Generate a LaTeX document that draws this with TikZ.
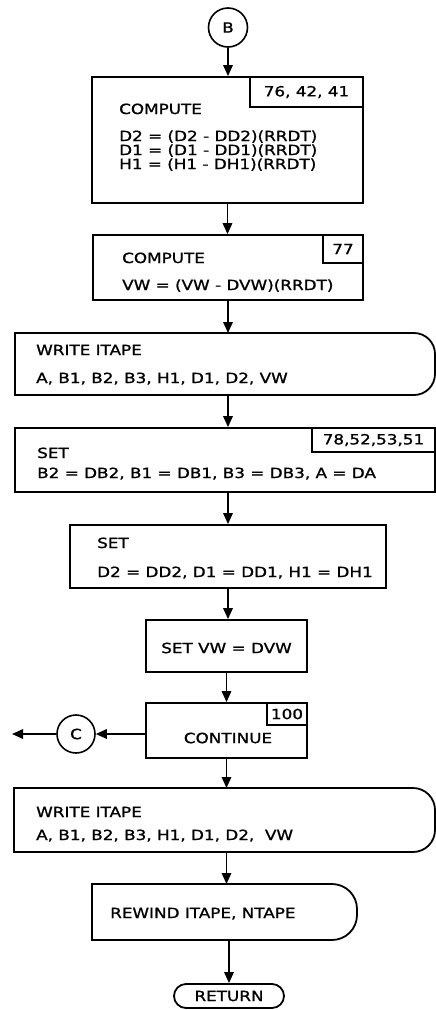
\documentclass[tikz,border=0pt]{standalone}
\usepackage{fontspec}
\newfontfamily\fcfont{DejaVu Sans}[FakeStretch=1.2, FakeBold=1.2]
\newcommand\fctxtfont{\fcfont\fontsize{14}{14}\selectfont}
\usetikzlibrary{arrows.meta}
\begin{document}
\begin{tikzpicture}[x=1pt,y=-1pt,
  fcbox/.style={draw, line width=1.8pt, inner sep=0pt},
  fctag/.style={draw, line width=1.2pt, inner sep=0pt, font=\fctxtfont},
  fctext/.style={inner sep=0pt, anchor=base west, font=\fctxtfont},
  fcctext/.style={inner sep=0pt, font=\fctxtfont},
  fcghost/.style={inner sep=0pt, outer sep=0pt},
  fcline/.style={line width=1.8pt},
  fcarrow/.style={line width=1.7pt, -{Triangle[length=11pt,width=9.5pt]}},
  fcconn/.style={circle, draw, line width=1.6pt, inner sep=0pt, font=\fctxtfont},
  fcterm/.style={draw, line width=1.8pt, inner sep=0pt, rounded corners=12pt, font=\fctxtfont}
]
\useasboundingbox (0,0) rectangle (436,1010);

% connector B
\node[fcconn, minimum size=39pt] (B) at (228,27.5) {B};

% compute 1
\node[fcbox, minimum width=271pt, minimum height=126pt] (c1) at (227.5,140) {};
\node[fctag, minimum width=113pt, minimum height=30pt] (c1n) at (306.5,92) {76, 42, 41};
\node[fctext] (c1a) at (119,114) {COMPUTE};
\node[fctext] (c1b) at (119,141) {D2 = (D2 - DD2)(RRDT)};
\node[fctext] (c1c) at (119,155) {D1 = (D1 - DD1)(RRDT)};
\node[fctext] (c1d) at (119,169) {H1 = (H1 - DH1)(RRDT)};

% compute 2
\node[fcbox, minimum width=270pt, minimum height=65pt] (c2) at (228,267.5) {};
\node[fctag, minimum width=40pt, minimum height=28pt] (c2n) at (343,249) {77};
\node[fctext] (c2a) at (122,263) {COMPUTE};
\node[fctext] (c2b) at (122,290) {VW = (VW - DVW)(RRDT)};

% write itape 1
\node[fcghost, minimum width=420pt, minimum height=62pt] (w1) at (225,364) {};
\draw[fcline, rounded corners=21pt] (w1.south west) -- (w1.south east) -- (w1.north east) -- (w1.north west);
\draw[fcline, line cap=rect] (w1.north west) -- (w1.south west);
\node[fctext] (w1a) at (36,355) {WRITE ITAPE};
\node[fctext] (w1b) at (36,383) {A, B1, B2, B3, H1, D1, D2, VW};

% set 1
\node[fcbox, minimum width=420pt, minimum height=64pt] (c3) at (225,460) {};
\node[fctag, minimum width=123pt, minimum height=24pt] (c3n) at (373.5,440) {78,52,53,51};
\node[fctext] (c3a) at (37,458) {SET};
\node[fctext] (c3b) at (37,478) {B2 = DB2, B1 = DB1, B3 = DB3, A = DA};

% set 2
\node[fcbox, minimum width=316pt, minimum height=63pt] (c4) at (228,556.5) {};
\node[fctext] (c4a) at (97,548) {SET};
\node[fctext] (c4b) at (97,577) {D2 = DD2, D1 = DD1, H1 = DH1};

% set vw
\node[fcbox, minimum width=161pt, minimum height=52pt] (c5) at (226.5,646) {};
\node[fcctext] (c5a) at (226.5,648) {SET VW = DVW};

% continue
\node[fcbox, minimum width=161pt, minimum height=55pt] (c6) at (226.5,730.5) {};
\node[fctag, minimum width=40pt, minimum height=22pt] (c6n) at (287,714) {100};
\node[fcctext] (c6a) at (228,738) {CONTINUE};

% connector C
\node[fcconn, minimum size=38pt] (C) at (76,734) {C};
\coordinate (out) at (12,734);

% write itape 2
\node[fcghost, minimum width=421pt, minimum height=64pt] (w2) at (224.5,820) {};
\draw[fcline, rounded corners=22pt] (w2.south west) -- (w2.south east) -- (w2.north east) -- (w2.north west);
\draw[fcline, line cap=rect] (w2.north west) -- (w2.south west);
\node[fctext] (w2a) at (36,817) {WRITE ITAPE};
\node[fctext] (w2b) at (36,840) {A, B1, B2, B3, H1, D1, D2,\ \ VW};

% rewind
\node[fcghost, minimum width=265pt, minimum height=56pt] (rw) at (224.5,912) {};
\draw[fcline, rounded corners=25pt] (rw.south west) -- (rw.south east) -- (rw.north east) -- (rw.north west);
\draw[fcline, line cap=rect] (rw.north west) -- (rw.south west);
\node[fctext] (rwa) at (110,918) {REWIND ITAPE, NTAPE};

% return
\node[fcterm, minimum width=110pt, minimum height=24pt] (ret) at (229,996) {RETURN};

% arrows
\draw[fcarrow] (B.south) -- (B.south |- c1.north);
\draw[fcarrow] (c1.south) -- (c1.south |- c2.north);
\draw[fcarrow] (c2.south) -- (c2.south |- w1.north);
\draw[fcarrow] (c2.south |- w1.south) -- (c2.south |- c3.north);
\draw[fcarrow] (c4.north |- c3.south) -- (c4.north);
\draw[fcarrow] (c4.south) -- (c4.south |- c5.north);
\draw[fcarrow] (c5.south) -- (c6.north);
\draw[fcarrow] (c6.south) -- (c6.south |- w2.north);
\draw[fcarrow] (c6.south |- w2.south) -- (c6.south |- rw.north);
\draw[fcarrow] (ret.north |- rw.south) -- (ret.north);
\draw[fcarrow] (c6.west |- C) -- (C.east);
\draw[fcarrow] (C.west) -- (out);
\end{tikzpicture}
\end{document}
